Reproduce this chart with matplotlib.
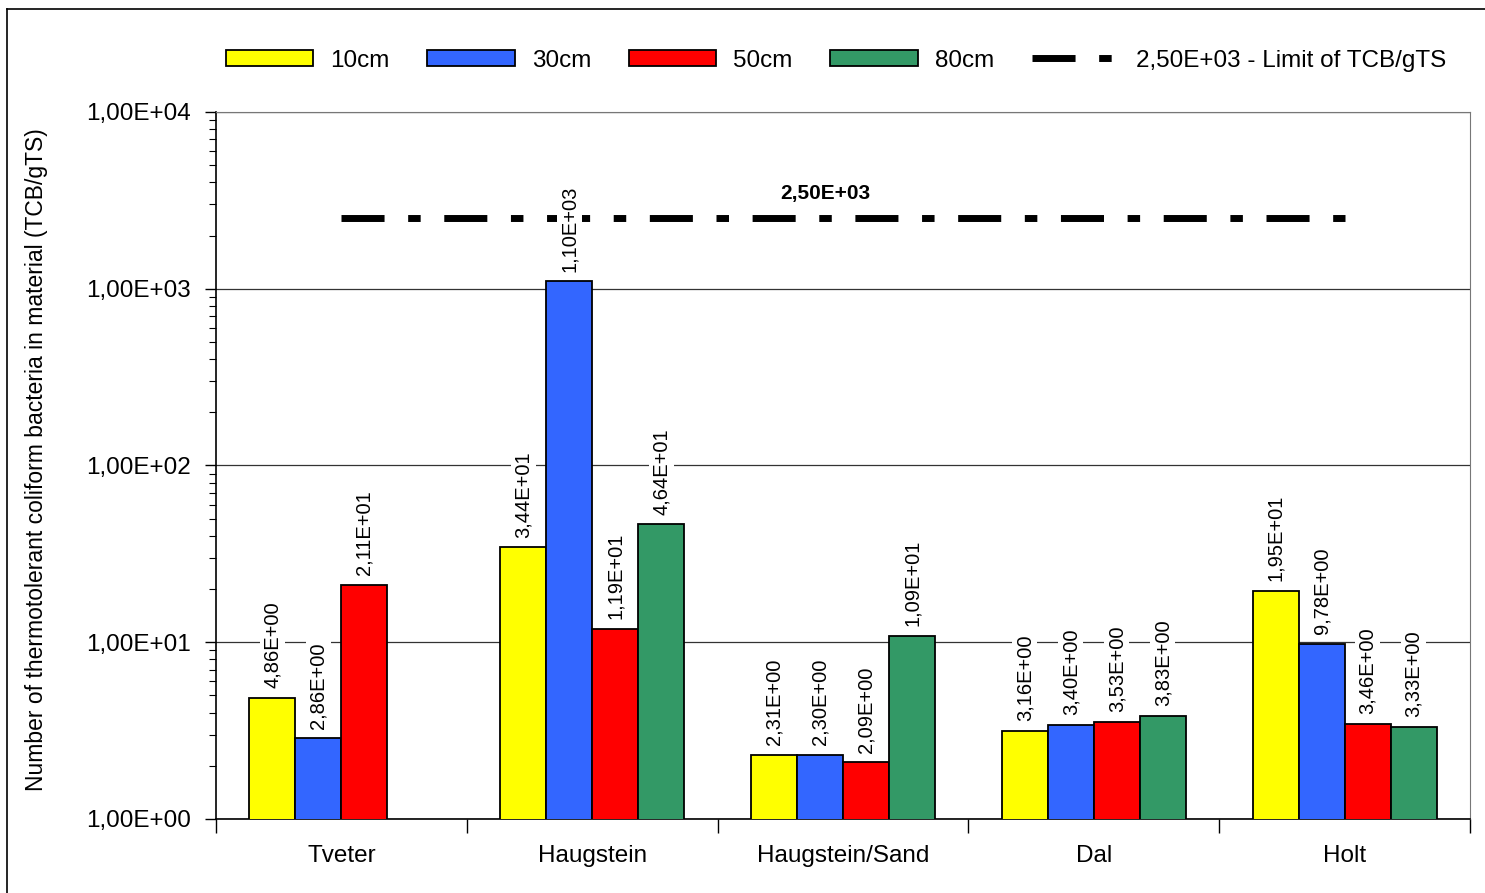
import numpy as np
import matplotlib.pyplot as plt
from matplotlib.lines import Line2D
from matplotlib.ticker import LogLocator, FuncFormatter, NullFormatter, FixedLocator

plt.rcParams['font.family'] = ['Liberation Sans', 'DejaVu Sans']

# Sampling sites and depths
sites = ["Tveter", "Haugstein", "Haugstein/Sand", "Dal", "Holt"]
depths = ["10cm", "30cm", "50cm", "80cm"]

# Thermotolerant coliform bacteria per gram total solids (nan = not sampled)
tcb_10cm = [4.86, 34.4, 2.31, 3.16, 19.5]
tcb_30cm = [2.86, 1100.0, 2.30, 3.40, 9.78]
tcb_50cm = [21.1, 11.9, 2.09, 3.53, 3.46]
tcb_80cm = [np.nan, 46.4, 10.9, 3.83, 3.33]

# Regulatory limit
limit = [2.5e3, 2.5e3, 2.5e3, 2.5e3, 2.5e3]
limit_label = "2,50E+03 - Limit of TCB/gTS"

colors = ["#FFFF00", "#3366FF", "#FF0000", "#339966"]


def sci_comma(v):
    return ("%.2E" % v).replace(".", ",")


fig = plt.figure(figsize=(14.85, 8.93), dpi=100)
ax = fig.add_axes([0.1455, 0.0829, 0.8444, 0.7917])

x = np.arange(len(sites))
w = 0.1834
series = [tcb_10cm, tcb_30cm, tcb_50cm, tcb_80cm]
offsets = [-1.5, -0.5, 0.5, 1.5]

ax.set_yscale("log")
ax.set_ylim(1, 1e4)
ax.set_xlim(-0.5, len(sites) - 0.5)

handles = []
for vals, off, col, lab in zip(series, offsets, colors, depths):
    bars = ax.bar(x + off * w, vals, w, color=col, edgecolor="black",
                  linewidth=1.3, label=lab, zorder=3)
    handles.append(bars)
    for xi, v in zip(x, vals):
        if np.isnan(v):
            continue
        ax.annotate(sci_comma(v), (xi + off * w, v), xytext=(0, 7),
                    textcoords="offset points", rotation=90,
                    ha="center", va="bottom", fontsize=14.5, zorder=5,
                    bbox=dict(boxstyle="square,pad=0.15", fc="white", ec="none"))

lim_line, = ax.plot(x, limit, color="black", linewidth=5,
                    dashes=[6.2, 3.4, 1.8, 3.4], dash_capstyle="butt",
                    label=limit_label, zorder=4)
ax.text(1.93, 2.5e3 * 1.22, sci_comma(limit[0]), ha="center", va="bottom",
        fontsize=15, fontweight="bold", zorder=5)

# y axis: decades with minor ticks
ax.yaxis.set_major_locator(LogLocator(base=10, numticks=10))
ax.yaxis.set_minor_locator(LogLocator(base=10, subs=np.arange(2, 10), numticks=10))
ax.yaxis.set_major_formatter(FuncFormatter(lambda v, p: sci_comma(v)))
ax.yaxis.set_minor_formatter(NullFormatter())
ax.tick_params(axis="y", which="major", direction="out", length=8, width=1,
               labelsize=17.5, pad=10)
ax.tick_params(axis="y", which="minor", direction="out", length=5, width=0.8)
ax.grid(axis="y", which="major", color="#333333", linewidth=0.9, zorder=0)

# x axis: category labels centred, ticks on boundaries
ax.set_xticks(x)
ax.set_xticklabels(sites, fontsize=17.5)
ax.xaxis.set_minor_locator(FixedLocator(np.arange(-0.5, len(sites), 1.0)))
ax.tick_params(axis="x", which="major", length=0, pad=19)
ax.tick_params(axis="x", which="minor", direction="out", length=10, width=1)

ax.spines["top"].set_color("#777777")
ax.spines["right"].set_color("#777777")
for s in ["left", "bottom"]:
    ax.spines[s].set_linewidth(1.2)

ax.set_ylabel("Number of thermotolerant coliform bacteria in material (TCB/gTS)",
              fontsize=16.5)
ax.yaxis.set_label_coords(-0.134, 0.508)

fig.legend(handles + [lim_line], depths + [limit_label], loc="center",
           bbox_to_anchor=(0.563, 0.932), ncol=5, frameon=False, fontsize=17.5,
           handlelength=3.6, handleheight=0.65, handletextpad=0.7,
           columnspacing=1.55)

# outer chart border
fig.add_artist(Line2D([0.0047, 1.0], [0.9899, 0.9899], color="black", linewidth=1.2))
fig.add_artist(Line2D([0.0047, 0.0047], [0.0, 0.9899], color="black", linewidth=1.2))

fig.savefig("out.png", dpi=100)
